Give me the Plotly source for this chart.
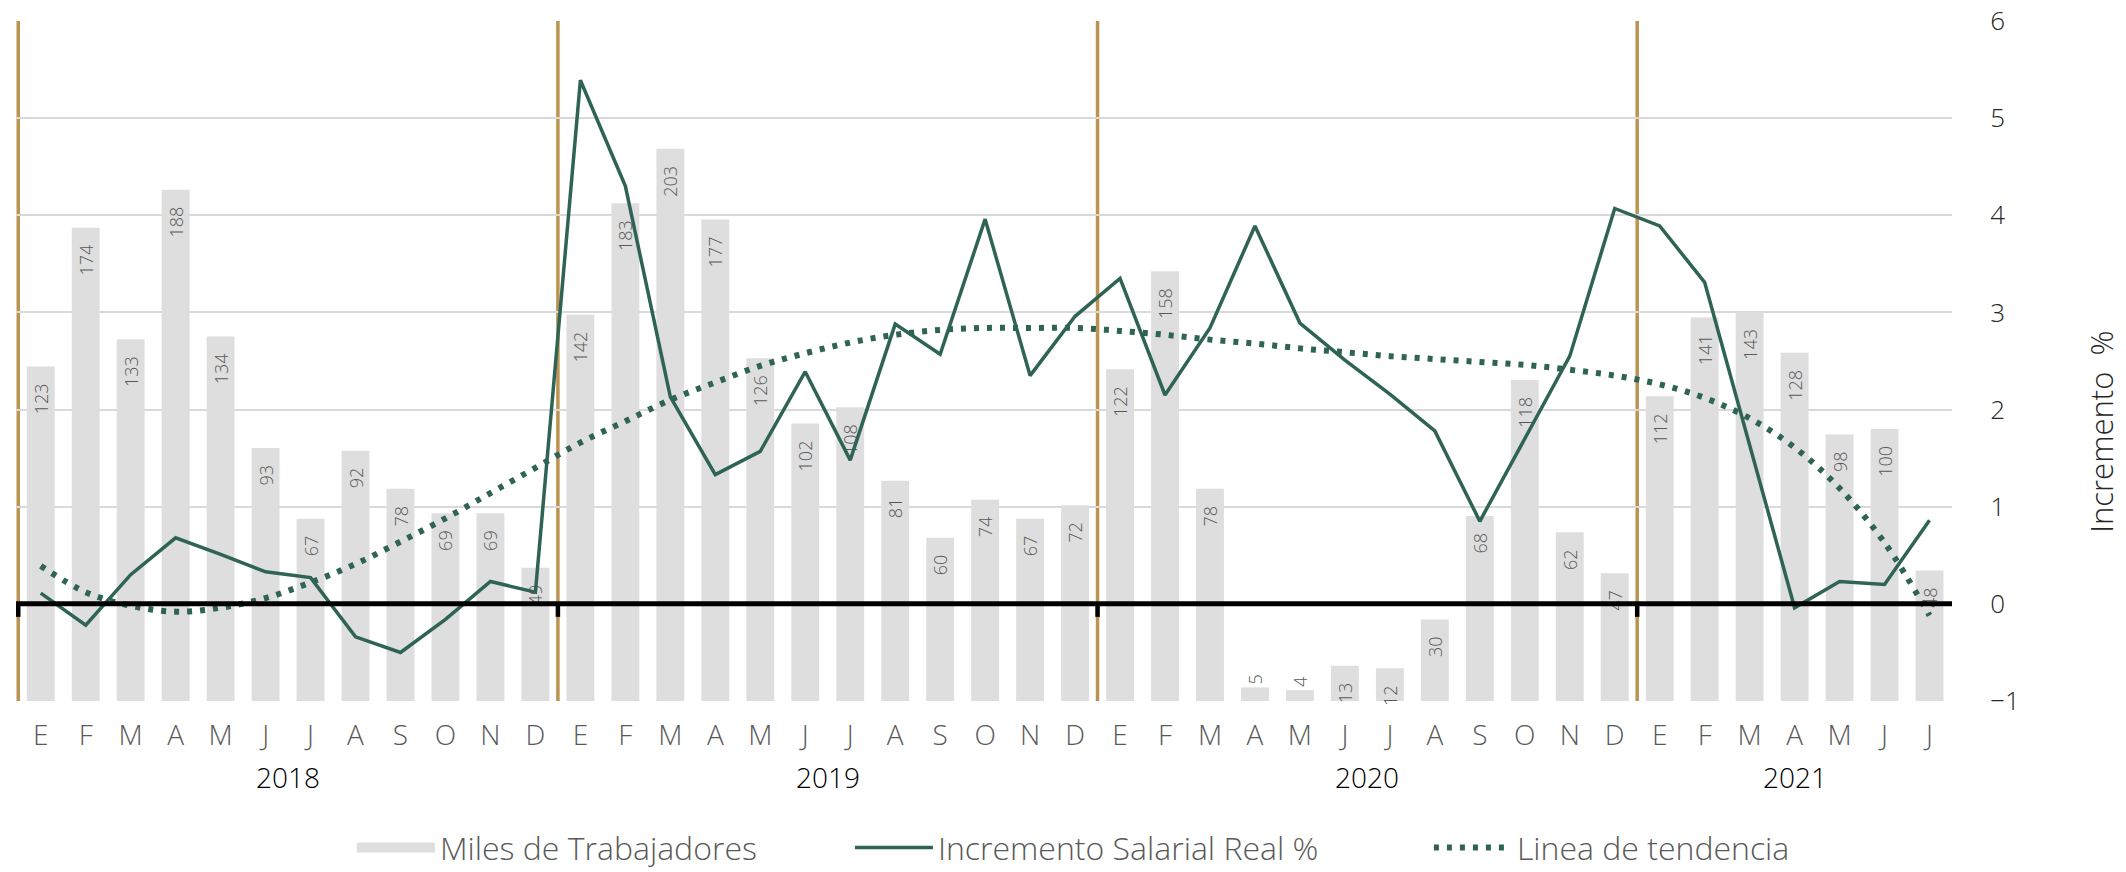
import plotly.graph_objects as go

# ---------------- data ----------------
year_labels = ["2018", "2019", "2020", "2021"]
months_per_year = [12, 12, 12, 7]
month_letters = ["E", "F", "M", "A", "M", "J", "J", "A", "S", "O", "N", "D"]

miles_trabajadores = [
    123, 174, 133, 188, 134, 93, 67, 92, 78, 69, 69, 49,
    142, 183, 203, 177, 126, 102, 108, 81, 60, 74, 67, 72,
    122, 158, 78, 5, 4, 13, 12, 30, 68, 118, 62, 47,
    112, 141, 143, 128, 98, 100, 48,
]

incremento_salarial = [
    0.11, -0.22, 0.30, 0.68, 0.51, 0.33, 0.27, -0.34, -0.50, -0.16, 0.23, 0.12,
    5.39, 4.30, 2.13, 1.33, 1.57, 2.39, 1.48, 2.88, 2.57, 3.96, 2.35, 2.96,
    3.35, 2.15, 2.84, 3.89, 2.89, 2.51, 2.16, 1.78, 0.85, 1.70, 2.55, 4.07,
    3.89, 3.31, 1.63, -0.04, 0.23, 0.20, 0.86,
]

linea_tendencia = [
    0.39, 0.12, -0.02, -0.08, -0.04, 0.06, 0.22, 0.41, 0.64, 0.88, 1.14, 1.40,
    1.66, 1.88, 2.10, 2.28, 2.45, 2.58, 2.69, 2.77, 2.82, 2.84, 2.84, 2.84,
    2.81, 2.77, 2.72, 2.68, 2.63, 2.59, 2.55, 2.52, 2.49, 2.46, 2.41, 2.35,
    2.26, 2.12, 1.91, 1.61, 1.19, 0.63, -0.12,
]

# ---------------- categories (unique keys, month letters as tick text) ----------------
x_keys = []
x_text = []
for yl, n in zip(year_labels, months_per_year):
    for i in range(n):
        x_keys.append(f"{yl}-{i + 1:02d}")
        x_text.append(month_letters[i])

FONT = "'Open Sans', Lato, Roboto, sans-serif"
GRAY_TXT = "#595959"
DARK_TXT = "#262626"
GREEN = "#2F6356"
GOLD = "#BA9450"
BAR = "#DEDEDF"

text_pos = ["outside" if v < 10 else "inside" for v in miles_trabajadores]

fig = go.Figure()
fig.add_trace(go.Bar(
    x=x_keys, y=miles_trabajadores, name="Miles de Trabajadores",
    marker=dict(color=BAR, line=dict(width=0)),
    texttemplate="%{y}\u00a0\u00a0\u00a0",
    textposition=text_pos, insidetextanchor="end", textangle=-90,
    constraintext="none", cliponaxis=False,
    insidetextfont=dict(size=18, color=GRAY_TXT, family=FONT, weight=300),
    outsidetextfont=dict(size=18, color=GRAY_TXT, family=FONT, weight=300),
    yaxis="y", showlegend=False, legendgroup="g1",
))
# legend proxy for the bars (wide grey swatch as in the original legend)
fig.add_trace(go.Scatter(
    x=[None], y=[None], name="Miles de Trabajadores", mode="lines",
    line=dict(color=BAR, width=19), yaxis="y2", legendgroup="g1",
    legendwidth=405, hoverinfo="skip",
))
fig.add_trace(go.Scatter(
    x=x_keys, y=incremento_salarial, name="Incremento Salarial Real %",
    mode="lines", line=dict(color=GREEN, width=3.5),
    yaxis="y2", legendgroup="g2", legendwidth=486,
))
fig.add_trace(go.Scatter(
    x=x_keys, y=linea_tendencia, name="Linea de tendencia",
    mode="lines", line=dict(color=GREEN, width=6, dash="5px,8px", shape="spline"),
    yaxis="y2", legendgroup="g3",
))

# year boundaries, tick marks, year labels
shapes = []
annotations = []
start = 0
for yl, n in zip(year_labels, months_per_year):
    bx = start - 0.5
    shapes.append(dict(type="line", xref="x", yref="paper", x0=bx, x1=bx, y0=0, y1=1,
                       line=dict(color=GOLD, width=3.5), layer="below"))
    shapes.append(dict(type="line", xref="x", yref="y2", ysizemode="pixel", yanchor=0,
                       x0=bx, x1=bx, y0=0, y1=-13,
                       line=dict(color="black", width=4.5), layer="above"))
    annotations.append(dict(text=yl, xref="x", yref="paper", x=start + (n - 1) / 2,
                            y=-0.1118, xanchor="center", yanchor="middle", showarrow=False,
                            font=dict(size=28, color="black", family=FONT, weight=300)))
    start += n
# zero line
shapes.append(dict(type="line", xref="paper", yref="y2", x0=0, x1=1, y0=0, y1=0,
                   line=dict(color="black", width=5), layer="above"))

annotations.append(dict(text="Incremento \u00a0%", xref="paper", yref="paper",
                        x=1.077, y=0.396, xanchor="center", yanchor="middle",
                        textangle=-90, showarrow=False,
                        font=dict(size=31, color=DARK_TXT, family=FONT, weight=300)))

fig.update_layout(
    width=2126, height=872,
    margin=dict(l=16, r=174, t=21, b=171, autoexpand=False),
    paper_bgcolor="white", plot_bgcolor="white",
    font=dict(family=FONT, color=GRAY_TXT, weight=300),
    bargap=0.38,
    showlegend=True,
    legend=dict(orientation="h", xref="container", yref="container",
                x=0.5049, xanchor="center", y=0.028, yanchor="middle",
                font=dict(size=32, color=GRAY_TXT, family=FONT, weight=300),
                itemwidth=78, traceorder="grouped"),
    xaxis=dict(type="category", tickmode="array", tickvals=x_keys, ticktext=x_text,
               showgrid=False, showline=False, ticks="", ticklabelstandoff=15,
               automargin=False,
               tickfont=dict(size=28, color=GRAY_TXT, family=FONT, weight=300)),
    yaxis=dict(range=[0, 250], visible=False, showgrid=False, zeroline=False,
               automargin=False),
    yaxis2=dict(range=[-1, 6], dtick=1, side="right", overlaying="y",
                showgrid=True, gridcolor="#D9D9D9", gridwidth=2,
                zeroline=False, showline=False, automargin=False,
                ticks="outside", ticklen=32, tickcolor="rgba(0,0,0,0)",
                tickfont=dict(size=26, color=DARK_TXT, family=FONT, weight=300)),
    shapes=shapes,
    annotations=annotations,
)

fig.write_html(
    "out.html",
    config={"displayModeBar": False},
    post_script="document.body.style.margin='0px';document.body.style.overflow='hidden';",
)
